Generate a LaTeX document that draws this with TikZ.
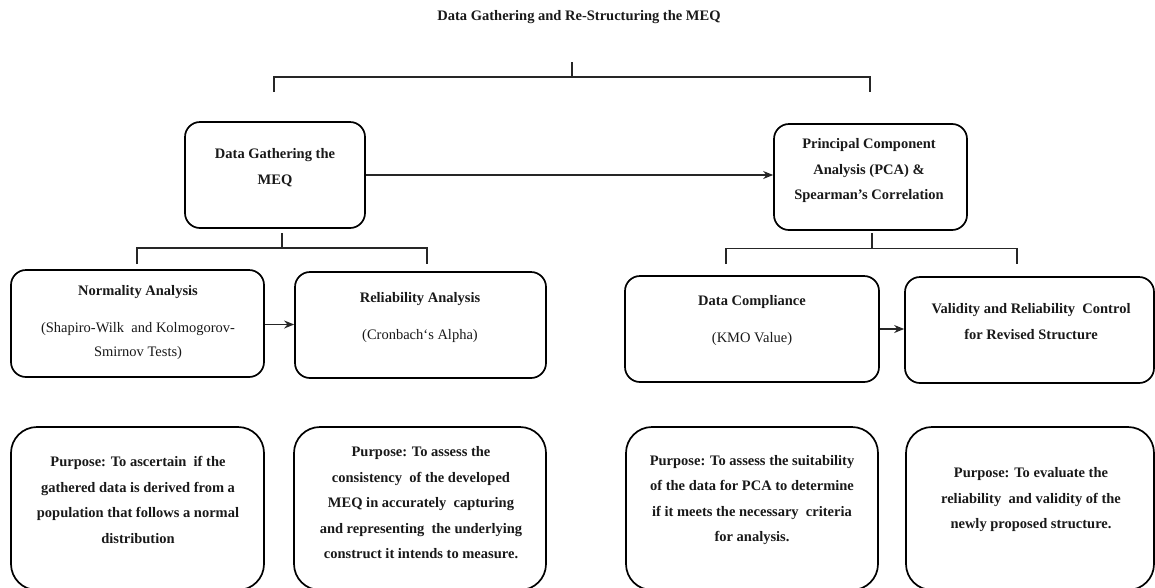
\documentclass[tikz,border=0pt]{standalone}
\usepackage{fontspec}
\setmainfont{Liberation Serif}
\usetikzlibrary{arrows.meta}

\tikzset{
  every node/.style={font=\fontsize{14.5}{25.5}\selectfont, inner sep=0pt},
  box/.style={draw=black, line width=1.7pt, rounded corners=15pt, fill=white},
  bigbox/.style={box, rounded corners=26pt},
  txt/.style={align=center, text=black!90},
  btxt/.style={txt, font=\fontsize{14.5}{25.5}\selectfont\bfseries},
  link/.style={draw=black!85, line width=1.6pt},
  flow/.style={link, -{Stealth[length=10pt, width=8pt]}},
}

\begin{document}
\begin{tikzpicture}[x=1pt, y=-1pt]
  \useasboundingbox (0,0) rectangle (1155,587);

  % heading
  \node[btxt] (title) at (579,17) {Data Gathering and Re-Structuring the MEQ};

  % level one
  \node[box, minimum width=180pt, minimum height=106pt] (gather) at (275,175) {};
  \node[box, minimum width=193pt, minimum height=106pt] (pca) at (870.5,177) {};

  % level two
  \node[box, minimum width=253pt, minimum height=107pt] (norm) at (137.5,323.5) {};
  \node[box, minimum width=251pt, minimum height=106pt] (rel) at (420.5,325) {};
  \node[box, minimum width=254pt, minimum height=106pt] (comp) at (752,329) {};
  \node[box, minimum width=249pt, minimum height=106pt] (valid) at (1029.5,330) {};

  % purpose boxes (run past the lower edge)
  \node[bigbox, minimum width=253pt, minimum height=163pt] (p1) at (137.5,508.5) {};
  \node[bigbox, minimum width=252pt, minimum height=163pt] (p2) at (420,508.5) {};
  \node[bigbox, minimum width=252pt, minimum height=163pt] (p3) at (752,508.5) {};
  \node[bigbox, minimum width=248pt, minimum height=163pt] (p4) at (1030,508.5) {};

  % texts of the boxes
  \node[btxt] (gatherT) at (275,167.5) {Data Gathering the\\MEQ};
  \node[btxt] (pcaT) at (869,171) {Principal Component\\Analysis (PCA) \&\\Spearman’s Correlation};

  \node[btxt] (normH) at (138,292) {Normality Analysis};
  \node[txt, font=\fontsize{14.5}{24}\selectfont] (normS) at (138,341.5) {(Shapiro-Wilk\ \ and Kolmogorov-\\Smirnov Tests)};
  \node[btxt] (relH) at (420,299) {Reliability Analysis};
  \node[txt] (relS) at (420,336) {(Cronbach‘s Alpha)};
  \node[btxt] (compH) at (752,302) {Data Compliance};
  \node[txt] (compS) at (752,339) {(KMO Value)};
  \node[btxt] (validT) at (1031,321.5) {Validity and Reliability\ \ Control\\for Revised Structure};

  \node[btxt] (p1T) at (138,500) {Purpose: To ascertain\ \ if the\\gathered data is derived from a\\population that follows a normal\\distribution};
  \node[btxt] (p2T) at (421,503) {Purpose: To assess the\\consistency\ \ of the developed\\MEQ in accurately\ \ capturing\\and representing\ \ the underlying\\construct it intends to measure.};
  \node[btxt] (p3T) at (752,500) {Purpose: To assess the suitability\\of the data for PCA to determine\\if it meets the necessary\ \ criteria\\for analysis.};
  \node[btxt] (p4T) at (1031,500) {Purpose: To evaluate the\\reliability\ \ and validity of the\\newly proposed structure.};

  % top bracket
  \coordinate (topStem) at (572,62);
  \coordinate (topMid) at (572,77);
  \coordinate (topL) at (274,92);
  \coordinate (topR) at (870,92);
  \draw[link] (topStem) -- (topMid) (topL) |- (topMid) -| (topR);

  % bracket under the data gathering box
  \coordinate (gS) at (282,233);
  \coordinate (gM) at (282,248);
  \coordinate (gL) at (137,264);
  \coordinate (gR) at (427,264);
  \draw[link] (gS) -- (gM) (gL) |- (gM) -| (gR);

  % bracket under the PCA box
  \coordinate (pS) at (872,233);
  \coordinate (pM) at (872,248.5);
  \coordinate (pL) at (726,264);
  \coordinate (pR) at (1017,264);
  \draw[link] (pS) -- (pM) (pL) |- (pM) -| (pR);

  % flow arrows
  \draw[flow] (gather.east) -- (gather.east -| pca.west);
  \draw[flow] ([yshift=-1pt]norm.east) -- ([yshift=-1pt]norm.east -| rel.west);
  \draw[flow] (comp.east) -- (comp.east -| valid.west);
\end{tikzpicture}
\end{document}
